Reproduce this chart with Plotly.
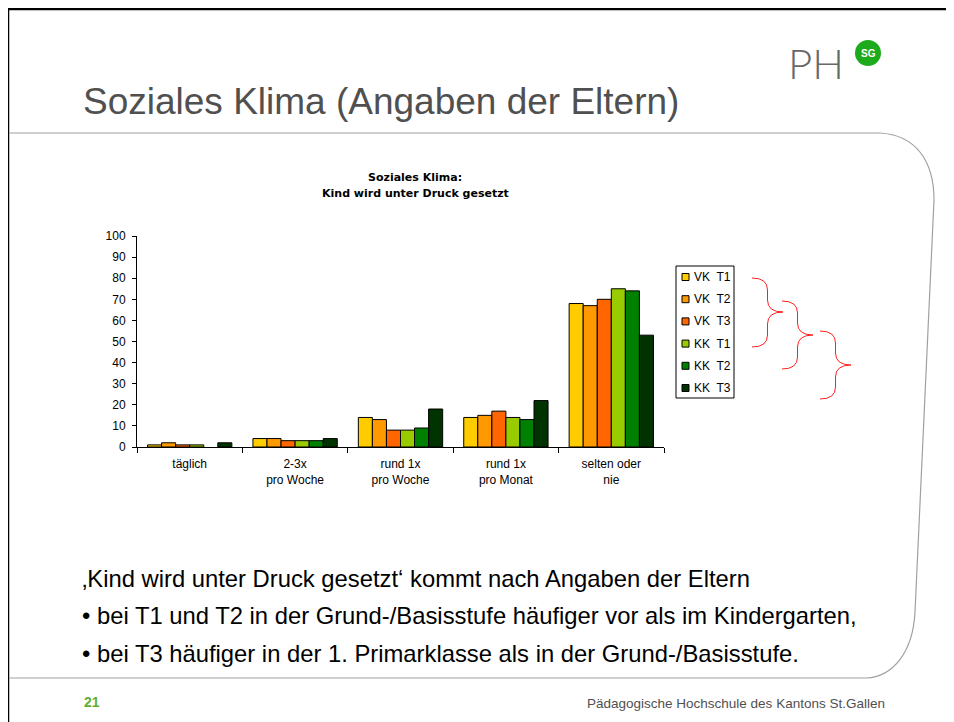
import plotly.graph_objects as go

# ---------------- data ----------------
categories = ["täglich", "2-3x<br>pro Woche", "rund 1x<br>pro Woche", "rund 1x<br>pro Monat", "selten oder<br>nie"]
series_names = ["VK  T1", "VK  T2", "VK  T3", "KK  T1", "KK  T2", "KK  T3"]
vk_t1 = [1, 4, 14, 14, 68]
vk_t2 = [2, 4, 13, 15, 67]
vk_t3 = [1, 3, 8, 17, 70]
kk_t1 = [1, 3, 8, 14, 75]
kk_t2 = [None, 3, 9, 13, 74]
kk_t3 = [2, 4, 18, 22, 53]
series_values = [vk_t1, vk_t2, vk_t3, kk_t1, kk_t2, kk_t3]
colors = ["#FFCC00", "#FF9900", "#FF6600", "#99CC00", "#008000", "#003300"]
y_ticks = [0, 10, 20, 30, 40, 50, 60, 70, 80, 90, 100]

# page is shown with an 8px body margin -> figure is offset by (8, 8)
OX, OY = 8, 8
SW, SH = 954, 722          # screenshot size
W, H = SW - OX, SH - OY    # figure size
PL, PR, PT, PB = 137, 664, 236, 447   # plot area in screenshot pixels


def px(x):
    return (x - PL) / (PR - PL)


def py(y):
    return (PB - y) / (PB - PT)


fig = go.Figure()
for name, vals, col in zip(series_names, series_values, colors):
    fig.add_trace(go.Bar(
        x=categories, y=vals, name=name,
        marker=dict(color=col, line=dict(color="#000000", width=1)),
        showlegend=False,
    ))

FONT = "Liberation Sans, Arial, sans-serif"

fig.update_layout(
    width=W, height=H,
    margin=dict(l=PL - OX, r=SW - PR, t=PT - OY, b=SH - PB, pad=0),
    paper_bgcolor="white", plot_bgcolor="white",
    barmode="group", bargap=0.2, bargroupgap=0,
    font=dict(family=FONT, size=11, color="#000000"),
    showlegend=False,
    xaxis=dict(
        showline=True, linecolor="#000000", linewidth=1,
        ticks="outside", ticklen=5, tickcolor="#000000", tickson="boundaries",
        tickfont=dict(size=12, color="#000000"), ticklabelstandoff=6,
        showgrid=False, fixedrange=True,
    ),
    yaxis=dict(
        range=[0, 100], tickvals=y_ticks,
        showline=True, linecolor="#000000", linewidth=1,
        ticks="outside", ticklen=4, tickcolor="#000000",
        tickfont=dict(size=12, color="#000000"), ticklabelstandoff=4,
        showgrid=False, zeroline=False, fixedrange=True,
    ),
)

shapes = []
# black slide frame (top & left)
shapes.append(dict(type="line", xref="paper", yref="paper", x0=px(8), x1=px(960), y0=py(9), y1=py(9),
                   line=dict(color="#000000", width=2.5)))
shapes.append(dict(type="line", xref="paper", yref="paper", x0=px(8), x1=px(8), y0=py(9), y1=py(730),
                   line=dict(color="#000000", width=2.5)))


def P(x, y):
    return f"{px(x)},{py(y)}"


# rounded content frame
frame = (f"M {P(9,133)} L {P(880,133)} C {P(915,135)} {P(934,160)} {P(934,200)} "
         f"L {P(915,612)} C {P(913,652)} {P(893,677)} {P(866,678)} L {P(9,678)}")
shapes.append(dict(type="path", xref="paper", yref="paper", path=frame,
                   line=dict(color="#a0a0a0", width=1.2)))


def brace(x0, yt, yb, xt, ym):
    xm = (x0 + xt) / 2
    r = 12
    return (f"M {P(x0,yt)} Q {P(xm,yt)} {P(xm,yt+r)} L {P(xm,ym-r)} Q {P(xm,ym)} {P(xt,ym)} "
            f"Q {P(xm,ym)} {P(xm,ym+r)} L {P(xm,yb-r)} Q {P(xm,yb)} {P(x0,yb)}")


for b in [(752, 278, 347, 783, 312), (782, 301, 369, 813, 335), (820, 331, 399, 851, 365)]:
    shapes.append(dict(type="path", xref="paper", yref="paper", path=brace(*b),
                       line=dict(color="#FF2020", width=1)))

# legend box (drawn by hand to match the original compact legend)
LEG_X0, LEG_X1, LEG_Y0, LEG_Y1 = 676, 734, 266, 398
shapes.append(dict(type="rect", xref="paper", yref="paper",
                   x0=px(LEG_X0), x1=px(LEG_X1), y0=py(LEG_Y0), y1=py(LEG_Y1),
                   line=dict(color="#000000", width=1), fillcolor="white"))
ann = []
for i, (name, col) in enumerate(zip(series_names, colors)):
    yc = 277 + i * 22.2
    shapes.append(dict(type="rect", xref="paper", yref="paper",
                       x0=px(682), x1=px(689), y0=py(yc - 3.5), y1=py(yc + 3.5),
                       line=dict(color="#000000", width=1), fillcolor=col))
    ann.append(dict(x=px(692), y=py(yc), xref="paper", yref="paper", text=name, showarrow=False,
                    xanchor="left", yanchor="middle", font=dict(size=12, color="#000000", family=FONT)))

# logo circle
shapes.append(dict(type="circle", xref="paper", yref="paper",
                   x0=px(855), x1=px(881), y0=py(40), y1=py(66),
                   fillcolor="#1DAA1D", line=dict(width=0)))
fig.update_layout(shapes=shapes)


def text(x, y, s, size, color="#000000", xanchor="left", family=FONT, weight=None):
    f = dict(size=size, color=color, family=family)
    if weight:
        f["weight"] = weight
    ann.append(dict(x=px(x), y=py(y), xref="paper", yref="paper", text=s, showarrow=False,
                    xanchor=xanchor, yanchor="middle", font=f))


WIDE = "DejaVu Sans, Verdana, sans-serif"
text(81, 101, "Soziales Klima (Angaben der Eltern)", 37, "#505050")
text(786, 63, "PH", 42, "#686868", family="Lato, Liberation Sans, sans-serif", weight=300)
text(868, 53, "<b>SG</b>", 10, "#FFFFFF", xanchor="center")
text(415, 177, "<b>Soziales Klima:</b>", 11, xanchor="center", family=WIDE)
text(415, 193, "<b>Kind wird unter Druck gesetzt</b>", 11, xanchor="center", family=WIDE)
text(80, 578, "\u201aKind wird unter Druck gesetzt\u2018 kommt nach Angaben der Eltern", 23.8)
text(80, 615, "\u2022 bei T1 und T2 in der Grund-/Basisstufe häufiger vor als im Kindergarten,", 23.8)
text(80, 653, "\u2022 bei T3 häufiger in der 1. Primarklasse als in der Grund-/Basisstufe.", 23.8)
text(82, 702, "<b>21</b>", 14, "#5DB030")
text(887, 703, "Pädagogische Hochschule des Kantons St.Gallen", 13.5, "#505050", xanchor="right")
fig.update_layout(annotations=ann)

fig.write_html("out.html")
